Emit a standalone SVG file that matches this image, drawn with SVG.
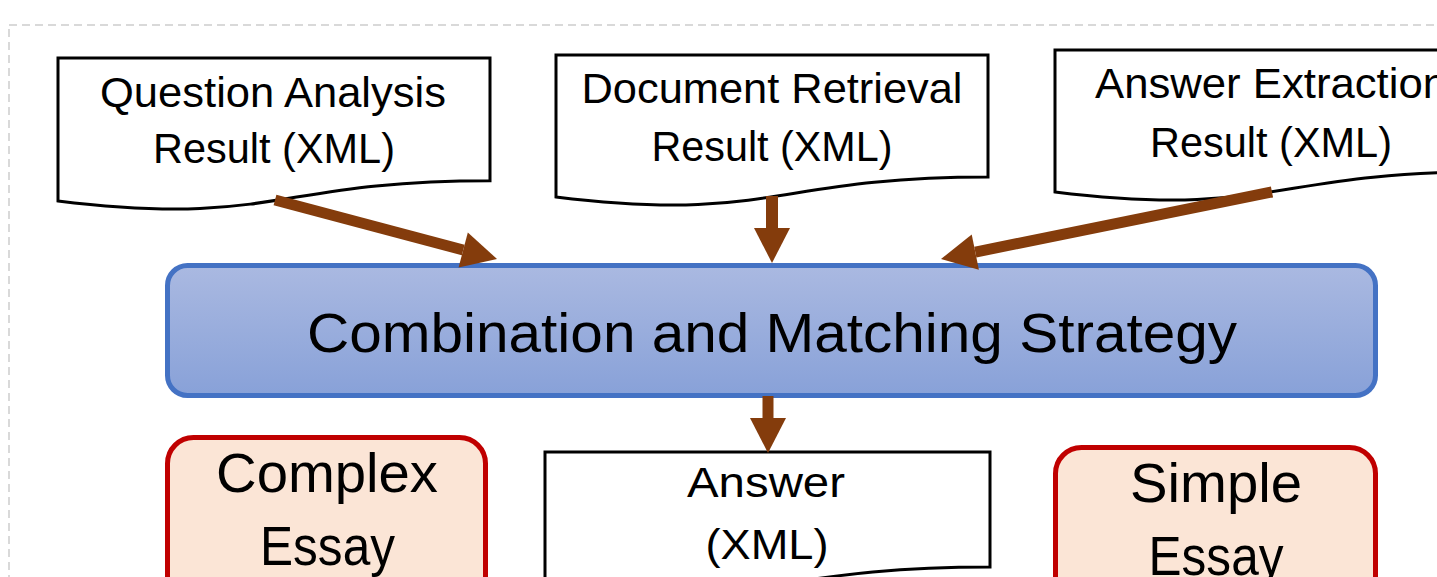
<svg xmlns="http://www.w3.org/2000/svg" width="1437" height="577" viewBox="0 0 1437 577">
  <style>
    .doc { fill: #ffffff; stroke: #000000; stroke-width: 3; stroke-linejoin: miter; }
    .dtxt { font-family: "Liberation Sans", Arial, sans-serif; font-size: 42px; fill: #000000; text-anchor: middle; }
    .btxt { font-family: "Liberation Sans", Arial, sans-serif; font-size: 56px; fill: #000000; text-anchor: middle; }
    .essay { fill: #FBE5D6; stroke: #C00000; stroke-width: 5; }
    .arrow { stroke: #843C0C; stroke-width: 11; fill: none; marker-end: url(#head); }
  </style>
  <defs>
    <marker id="head" markerUnits="userSpaceOnUse" markerWidth="36" markerHeight="36" refX="0" refY="18" orient="auto" overflow="visible">
      <path d="M0,0 L35,18 L0,36 Z" fill="#843C0C"/>
    </marker>
    <linearGradient id="blueGrad" x1="0" y1="0" x2="0" y2="1">
      <stop offset="0" stop-color="#AAB9E1"/>
      <stop offset="1" stop-color="#88A1D8"/>
    </linearGradient>
  </defs>
  <rect x="0" y="0" width="1437" height="577" fill="#ffffff"/>
  <rect id="frame" x="9" y="25" width="1460" height="600" fill="none" stroke="#D9D9D9" stroke-width="2" stroke-dasharray="8,5"/>

  <g id="doc-question-analysis">
    <path class="doc" d="M58,58 H490 V180.7 C274,180.7 274,227.4 58,200.9 Z"/>
    <text class="dtxt" x="273" y="107" textLength="346" lengthAdjust="spacingAndGlyphs">Question Analysis</text>
    <text class="dtxt" x="274" y="163" textLength="242" lengthAdjust="spacingAndGlyphs">Result (XML)</text>
  </g>

  <g id="doc-document-retrieval">
    <path class="doc" d="M556,55 H988 V177 C772,177 772,223.3 556,197 Z"/>
    <text class="dtxt" x="772" y="103" textLength="381" lengthAdjust="spacingAndGlyphs">Document Retrieval</text>
    <text class="dtxt" x="772" y="161" textLength="241" lengthAdjust="spacingAndGlyphs">Result (XML)</text>
  </g>

  <g id="doc-answer-extraction">
    <path class="doc" d="M1055,50 H1487 V171.9 C1271,171.9 1271,218.3 1055,192 Z"/>
    <text class="dtxt" x="1271" y="98" textLength="352" lengthAdjust="spacingAndGlyphs">Answer Extraction</text>
    <text class="dtxt" x="1271" y="157" textLength="242" lengthAdjust="spacingAndGlyphs">Result (XML)</text>
  </g>

  <g id="combination-strategy">
    <rect x="167.5" y="265.5" width="1208" height="130" rx="20" ry="20" fill="url(#blueGrad)" stroke="#4472C4" stroke-width="5"/>
    <text class="btxt" x="772" y="352" textLength="930" lengthAdjust="spacingAndGlyphs">Combination and Matching Strategy</text>
  </g>

  <g id="complex-essay">
    <rect class="essay" x="167.5" y="437.5" width="318" height="180" rx="26" ry="26"/>
    <text class="btxt" x="327" y="492" textLength="222" lengthAdjust="spacingAndGlyphs">Complex</text>
    <text class="btxt" x="327.5" y="565" textLength="135" lengthAdjust="spacingAndGlyphs">Essay</text>
  </g>

  <g id="answer-doc">
    <path class="doc" d="M545,452 H990 V567 C767.5,567 767.5,610.8 545,586 Z"/>
    <text class="dtxt" x="766" y="497" textLength="158" lengthAdjust="spacingAndGlyphs">Answer</text>
    <text class="dtxt" x="767" y="559" textLength="123" lengthAdjust="spacingAndGlyphs">(XML)</text>
  </g>

  <g id="simple-essay">
    <rect class="essay" x="1055.5" y="447.5" width="320" height="180" rx="26" ry="26"/>
    <text class="btxt" x="1216" y="502" textLength="172" lengthAdjust="spacingAndGlyphs">Simple</text>
    <text class="btxt" x="1216" y="575" textLength="135" lengthAdjust="spacingAndGlyphs">Essay</text>
  </g>

  <g id="connectors">
    <line class="arrow" x1="275" y1="200" x2="463.2" y2="250"/>
    <line class="arrow" x1="772" y1="196" x2="772" y2="228" style="stroke-width:12"/>
    <line class="arrow" x1="1272" y1="192" x2="975.3" y2="252.1"/>
    <line class="arrow" x1="768" y1="396" x2="768" y2="418"/>
  </g>
</svg>
